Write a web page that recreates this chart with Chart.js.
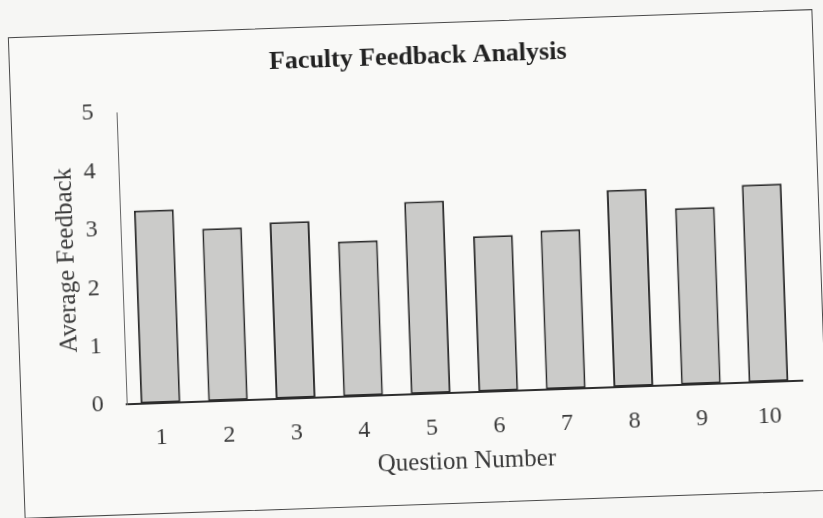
<!DOCTYPE html>
<html>
<head>
<meta charset="utf-8">
<script src="https://cdn.jsdelivr.net/npm/chart.js@4"></script>
<style>
    html, body { margin: 0; padding: 0; }
    body { width: 823px; height: 518px; background: #f6f6f4; overflow: hidden; position: relative; }
    #frame {
        position: absolute; left: 16px; top: 23px; width: 805px; height: 482px;
        border: 1.5px solid #4a4a4a; box-sizing: border-box; background: #f9f9f7;
        transform: rotate(-2deg); transform-origin: center center;
    }
    #grafico { position: absolute; left: -1.5px; top: -1.5px; }
</style>
</head>
<body>
<div id="frame"><canvas id="grafico" width="805" height="482"></canvas></div>
<script>
// datos
const preguntas = ['1', '2', '3', '4', '5', '6', '7', '8', '9', '10'];
const promedio = [3.31, 2.96, 3.03, 2.66, 3.30, 2.67, 2.73, 3.38, 3.03, 3.39];
const titulo = 'Faculty Feedback Analysis';
const tituloX = 'Question Number';
const tituloY = 'Average Feedback';

const serif = "'Liberation Serif', 'DejaVu Serif', serif";
const ctx = document.getElementById('grafico').getContext('2d');
const chart = new Chart(ctx, {
    type: 'bar',
    data: {
        labels: preguntas,
        datasets: [{
            label: tituloY,
            data: promedio,
            backgroundColor: '#cbcbc9',
            borderColor: '#2b2b2b',
            borderWidth: 2,
            borderSkipped: false,
            categoryPercentage: 1,
            barPercentage: 0.59
        }]
    },
    options: {
        responsive: false,
        animation: false,
        devicePixelRatio: 1,
        layout: { padding: { left: 36, right: 23, top: 10, bottom: 23 } },
        plugins: {
            legend: { display: false },
            tooltip: { enabled: false },
            title: {
                display: true,
                text: titulo,
                color: '#222',
                font: { family: serif, size: 26, weight: 'bold' },
                padding: { top: 9, bottom: 29 }
            }
        },
        scales: {
            x: {
                grid: { display: false, drawTicks: false },
                border: { display: true, color: '#2e2e2e', width: 2 },
                ticks: { color: '#3a3a3a', font: { family: serif, size: 24 }, padding: 20 },
                title: {
                    display: true, text: tituloX, color: '#3a3a3a',
                    font: { family: serif, size: 25 }, padding: { top: 10, bottom: 4 }
                },
                // alto fijo para que el area quede como en la imagen
                afterFit: (s) => { s.height = 88; }
            },
            y: {
                min: 0,
                max: 5,
                grid: { display: false, drawTicks: false },
                border: { display: true, color: '#666', width: 1 },
                ticks: { stepSize: 1, color: '#3a3a3a', font: { family: serif, size: 24 }, padding: 23 },
                title: {
                    display: true, text: tituloY, color: '#3a3a3a',
                    font: { family: serif, size: 25 }, padding: { top: 0, bottom: 10 }
                },
                afterFit: (s) => { s.width = 70; }
            }
        }
    }
});
</script>
</body>
</html>
